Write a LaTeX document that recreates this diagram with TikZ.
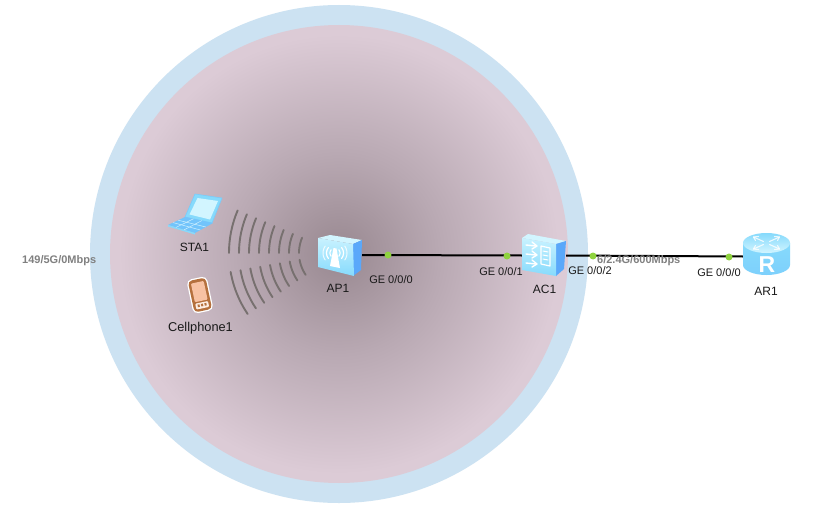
\documentclass[tikz,border=0pt]{standalone}
\usepackage{fontspec}
\usetikzlibrary{calc}
\setmainfont{Liberation Sans}
\definecolor{haloblue}{HTML}{CCE2F2}
\definecolor{rosea}{HTML}{988890}
\definecolor{roseb}{HTML}{B9A9B3}
\definecolor{rosee}{HTML}{DCCBD6}
\definecolor{wavegray}{HTML}{77706F}
\definecolor{linkgreen}{HTML}{8FD33F}
\definecolor{iconlight}{HTML}{C8F2FF}
\definecolor{iconmid}{HTML}{86DAFC}
\definecolor{iconside}{HTML}{5AA8FA}
\definecolor{icontop}{HTML}{D2F5FF}
\definecolor{phoneline}{HTML}{B5703D}
\definecolor{phonefill}{HTML}{F8C2A3}
\pgfdeclareradialshading{rosefield}{\pgfpoint{0bp}{0bp}}{%
  color(0bp)=(rosea); color(11bp)=(roseb); color(24bp)=(rosee); color(50bp)=(rosee)}
\tikzset{
  x=1pt,y=-1pt,
  devbox/.style={minimum width=44pt,minimum height=36pt,inner sep=0pt,outer sep=0pt},
  devlabel/.style={font=\fontsize{12}{14}\selectfont,text=black!90,inner sep=0pt},
  portlabel/.style={font=\fontsize{11}{13}\selectfont,text=black!90,inner sep=0pt},
  ratelabel/.style={font=\fontsize{11}{13}\selectfont\bfseries,text=gray,inner sep=0pt},
  link/.style={line width=2pt,black},
  portdot/.style={circle,fill=linkgreen,minimum size=7pt,inner sep=0pt},
  wave/.style={line width=1.9pt,wavegray,line cap=round},
  facefront/.style={top color=iconlight,bottom color=iconmid,draw=none},
  facetop/.style={fill=icontop,draw=none},
  faceside/.style={fill=iconside,draw=none},
  glyph/.style={white,line width=1.4pt,line cap=round,line join=round},
}
\begin{document}
\begin{tikzpicture}
\useasboundingbox (0,0) rectangle (830,527);
\fill[white] (0,0) rectangle (830,527);
\node[circle,fill=haloblue,minimum size=498pt,inner sep=0pt] (halo) at (339,254) {};
\shade[shading=rosefield] (339,254) circle[radius=229pt];

% waves
\foreach \r in {39,49,...,109}{
  \draw[wave] plot[smooth,domain=180:203,samples=9] ({338+\r*cos(\x)},{253+\r*sin(\x)});
  \draw[wave] plot[smooth,domain=146:170,samples=9] ({338+\r*cos(\x)},{253+\r*sin(\x)});
}

% device anchors
\node[devbox] (ap) at (340,255) {};
\node[devbox] (ac) at (544,255.5) {};
\node[devbox,minimum width=48pt] (ar) at (767,256.5) {};

% links
\draw[link] (ap.east) -- (ac.west);
\draw[link] (ac.east) -- (ar.west);

% AP icon
\fill[facetop] (318,238) -- (330,235) -- (362,240) -- (353,244) -- cycle;
\fill[faceside] (353,244) -- (362,240) -- (361,270) -- (353,276) -- cycle;
\shade[facefront] (318,238) -- (353,244) -- (354,276) -- (318,267) -- cycle;
\fill[white] (333.5,248) -- (336.5,248.5) -- (340,268) -- (330,266) -- cycle;
\foreach \s in {1,-1}{
  \draw[glyph,line width=1.2pt] plot[smooth,domain=-40:40,samples=7] ({335+\s*(5*cos(\x))},{253+5*sin(\x)});
  \draw[glyph,line width=1.2pt] plot[smooth,domain=-40:40,samples=7] ({335+\s*(8.5*cos(\x))},{253+8.5*sin(\x)});
  \draw[glyph,line width=1pt,opacity=.8] plot[smooth,domain=-35:35,samples=7] ({335+\s*(12*cos(\x))},{253+12*sin(\x)});
}

% AC icon
\fill[facetop] (522,238) -- (528,234) -- (566,241) -- (556,244) -- cycle;
\fill[faceside] (556,244) -- (566,241) -- (564,269) -- (556,276) -- cycle;
\shade[facefront] (522,238) -- (556,244) -- (556,276) -- (522,270) -- cycle;
\draw[glyph,line width=1.2pt] (541,246) -- (550,248) -- (550,266) -- (541,264) -- cycle;
\foreach \yy in {251,255,259}{\draw[glyph,line width=1pt] (543,\yy) -- (548,\yy+1);}
\foreach \yy in {245,254,263}{
  \draw[glyph] (526,\yy) -- (536,\yy+1);
  \draw[glyph] (532,\yy-3) -- (537,\yy+1) -- (532,\yy+4);
}

% AR icon
\shade[top color=iconmid,bottom color=iconmid!80!iconside]
  (743,243) -- (743,265) arc[start angle=180,end angle=360,x radius=23.5pt,y radius=10pt]
  -- (790,243) -- cycle;
\shade[top color=iconmid,bottom color=icontop,draw=none]
  (766.5,243) ellipse[x radius=23.5pt,y radius=10pt];
\foreach \sx/\sy/\rot in {-1/-1/0,1/-1/0,-1/1/0,1/1/0}{
  \draw[glyph,line width=1.1pt,opacity=.8] (766.5+\sx*3,243+\sy*1.5) -- (766.5+\sx*13,243+\sy*6);
  \draw[glyph,line width=1.1pt,opacity=.8] (766.5+\sx*8,243+\sy*6.5) -- (766.5+\sx*13,243+\sy*6) -- (766.5+\sx*11,243+\sy*2.5);
}
\node[font=\fontsize{23}{23}\selectfont\bfseries,text=white,inner sep=0pt] (rlogo) at (767,265) {R};

% laptop STA1
\fill[iconmid,draw=iconmid!70!iconside,line width=.6pt,line join=round]
  (195,194) -- (222,198) -- (212,223) -- (185,217) -- cycle;
\fill[icontop] (197.5,198) -- (218,201) -- (210,219.5) -- (189.5,214.5) -- cycle;
\fill[iconmid!55!iconside,line join=round] (168,225) -- (185,217) -- (213,223) -- (195,233) -- cycle;
\fill[iconmid] (168,225) -- (195,233) -- (195,234.5) -- (168,226.5) -- cycle;
\foreach \t in {.3,.6}{
  \draw[iconmid!40!white,line width=.5pt] ($(168,225)!\t!(195,233)$) -- ($(185,217)!\t!(213,223)$);
  \draw[iconmid!40!white,line width=.5pt] ($(168,225)!\t!(185,217)$) -- ($(195,233)!\t!(213,223)$);
}

% phone
\begin{scope}[shift={(200,295)},rotate=12]
  \draw[white,line width=2.6pt,rounded corners=4pt] (-9,-16) rectangle (9,16);
  \fill[phoneline,rounded corners=4pt] (-9,-16) rectangle (9,16);
  \fill[phonefill,rounded corners=1pt] (-6.5,-13) rectangle (6.5,6);
  \fill[white!70!phonefill,rounded corners=1pt] (-6.5,7.5) rectangle (6.5,13.5);
  \foreach \dx in {-3.5,0,3.5}{\fill[phoneline] (\dx-1,9) rectangle (\dx+1,11.5);}
\end{scope}

% port dots
\node[portdot] (d1) at (388,255) {};
\node[portdot] (d2) at (507,256) {};
\node[portdot] (d3) at (593,256) {};
\node[portdot] (d4) at (729,257) {};

% labels
\node[devlabel] (sta) at (194.5,247) {STA1};
\node[devlabel,font=\fontsize{12.8}{14}\selectfont] (cell) at (200.5,328) {Cellphone1};
\node[devlabel] (apl) at (338,288) {AP1};
\node[devlabel] (acl) at (544.5,289) {AC1};
\node[devlabel] (arl) at (766,291) {AR1};
\node[ratelabel,anchor=west] (rate1) at (22,261) {149/5G/0Mbps};
\node[ratelabel,anchor=west] (rate2) at (597,261) {6/2.4G/600Mbps};
\node[portlabel] (p1) at (391,280) {GE 0/0/0};
\node[portlabel] (p2) at (501,272) {GE 0/0/1};
\node[portlabel] (p3) at (590,271) {GE 0/0/2};
\node[portlabel] (p4) at (719,273) {GE 0/0/0};
\end{tikzpicture}
\end{document}
